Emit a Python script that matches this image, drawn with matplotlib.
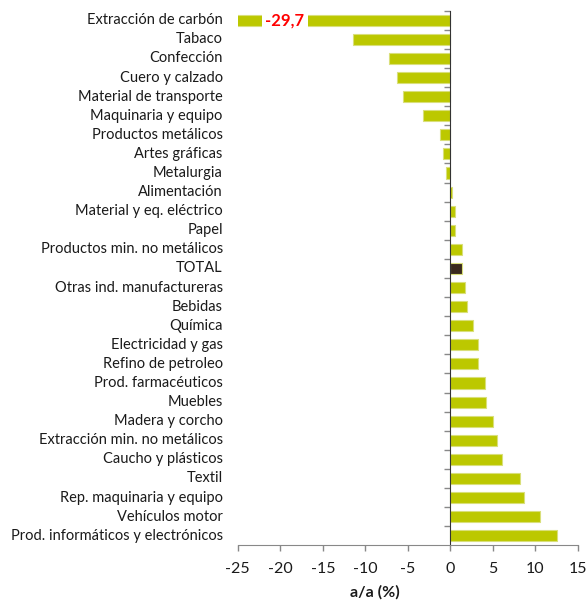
import matplotlib
matplotlib.use("Agg")
import matplotlib.pyplot as plt

plt.rcParams["font.family"] = ["Lato", "DejaVu Sans"]

categories = [
    "Extracción de carbón",
    "Tabaco",
    "Confección",
    "Cuero y calzado",
    "Material de transporte",
    "Maquinaria y equipo",
    "Productos metálicos",
    "Artes gráficas",
    "Metalurgia",
    "Alimentación",
    "Material y eq. eléctrico",
    "Papel",
    "Productos min. no metálicos",
    "TOTAL",
    "Otras ind. manufactureras",
    "Bebidas",
    "Química",
    "Electricidad y gas",
    "Refino de petroleo",
    "Prod. farmacéuticos",
    "Muebles",
    "Madera y corcho",
    "Extracción min. no metálicos",
    "Caucho y plásticos",
    "Textil",
    "Rep. maquinaria y equipo",
    "Vehículos motor",
    "Prod. informáticos y electrónicos",
]
values = [
    -29.7, -11.5, -7.2, -6.3, -5.6, -3.2, -1.2, -0.9, -0.5, 0.15,
    0.5, 0.5, 1.4, 1.4, 1.7, 2.0, 2.6, 3.3, 3.3, 4.1,
    4.2, 5.0, 5.5, 6.1, 8.2, 8.7, 10.5, 12.5,
]
x_ticks = [-25, -20, -15, -10, -5, 0, 5, 10, 15]

bar_color = "#BCC800"
total_color = "#3A2A1E"
colors = [total_color if c == "TOTAL" else bar_color for c in categories]

fig = plt.figure(figsize=(5.88, 6.03), dpi=100)
ax = fig.add_axes([0.4044, 0.0957, 0.5786, 0.8866])

pos = list(range(len(categories)))
ax.barh(pos, values, height=0.58, color=colors, edgecolor="#D9DF7A",
        linewidth=0.8, zorder=2)
ax.set_xlim(-25, 15)
ax.set_ylim(len(categories) - 0.5, -0.5)

# value label for the clipped bar
ax.text(-19.45, 0, "-29,7", color="#FF0000", fontsize=12, fontweight="bold",
        ha="center", va="center", zorder=3,
        bbox=dict(facecolor="white", edgecolor="none", pad=2.5))

# category labels on the left of the plot area
for i, name in enumerate(categories):
    ax.text(-0.044, i, name, ha="right", va="center", fontsize=10.5,
            color="#1a1a1a", transform=ax.get_yaxis_transform())

# vertical axis at x = 0 with ticks between categories
ax.spines["left"].set_position(("data", 0))
ax.spines["left"].set_color("#333333")
ax.set_yticks([p - 0.5 for p in pos])
ax.set_yticklabels([])
ax.tick_params(axis="y", direction="out", length=4.5, width=1,
               color="#888888")

ax.spines["top"].set_visible(False)
ax.spines["right"].set_visible(False)
ax.spines["bottom"].set_color("#888888")
ax.set_xticks(x_ticks)
ax.set_xticklabels([str(t) for t in x_ticks])
ax.tick_params(axis="x", direction="out", length=4, width=1, color="#888888",
               labelsize=11.5, labelcolor="#1a1a1a", pad=8)

# axis title
ax.text(0.403, -0.088, "a/a (%)", fontsize=11.5, fontweight="bold",
        color="#1a1a1a", ha="center", va="center", transform=ax.transAxes)

fig.savefig("out.png", dpi=100)
